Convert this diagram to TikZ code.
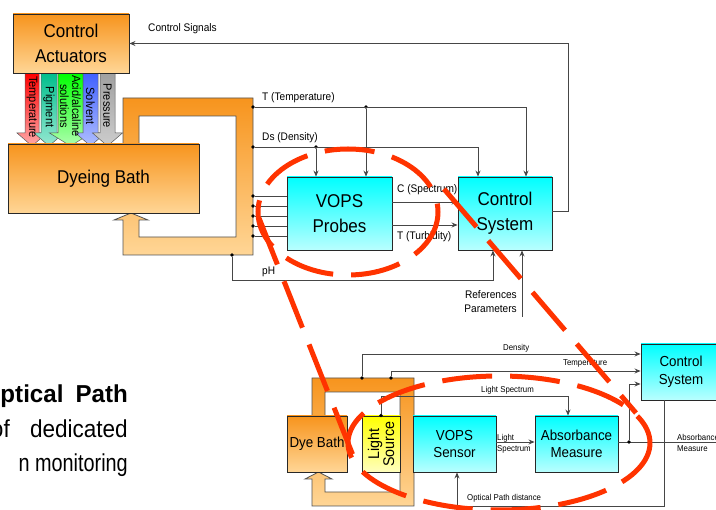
\documentclass[tikz,border=0pt]{standalone}
\usepackage{fontspec}
\setmainfont[FakeStretch=0.92]{Liberation Sans}
\usetikzlibrary{arrows.meta,calc}
\definecolor{orT}{RGB}{247,148,29}
\definecolor{orB}{RGB}{255,214,150}
\definecolor{cyT}{RGB}{0,255,255}
\definecolor{cyB}{RGB}{185,255,255}
\definecolor{yeT}{RGB}{255,255,0}
\definecolor{yeB}{RGB}{255,255,190}
\definecolor{redd}{RGB}{255,51,0}
\definecolor{lnc}{RGB}{70,70,70}
\definecolor{bdr}{RGB}{40,40,40}
\tikzset{
 fbox/.style={draw=bdr, line width=0.9pt, align=center, inner sep=0pt, font=\fontsize{18.5}{25}\selectfont},
 obox/.style={fbox, top color=orT, bottom color=orB},
 cbox/.style={fbox, top color=cyT, bottom color=cyB},
 sfont/.style={font=\fontsize{14.5}{17.5}\selectfont},
 pipe/.style={draw=bdr!80, line width=0.8pt, top color=orT, bottom color=orB},
 conn/.style={draw=lnc, line width=0.8pt},
 arr/.style={conn, -{Stealth[length=6pt,width=5pt]}},
 jdot/.style={circle, fill=black, inner sep=0pt, minimum size=3.6pt},
 lbl/.style={inner sep=0pt, font=\fontsize{11}{14.5}\selectfont},
 slbl/.style={inner sep=0pt, font=\fontsize{8.5}{11}\selectfont, align=left},
 rdash/.style={draw=redd, line width=5pt, dash pattern=on 50pt off 18pt},
 actarr/.style={draw=gray!70!black, line width=0.5pt},
 alab/.style={rotate=-90, inner sep=0pt, align=center, font=\fontsize{12}{12}\selectfont},
 bigtxt/.style={anchor=base east, inner sep=0pt, font=\fontsize{24.5}{30}\selectfont},
}
\begin{document}
\begin{tikzpicture}[x=1pt,y=-1pt]
\useasboundingbox (0,0) rectangle (716,510);

% ---------- upper pipe ----------
\path[pipe] (123,144) -- (123,98) -- (253,98) -- (253,255) -- (123,255) -- (123,220)
  -- (114,220) -- (131,213) -- (148,220) -- (139,220) -- (139,237) -- (236,237)
  -- (236,116) -- (139,116) -- (139,144) -- cycle;

% ---------- actuator arrows ----------
\path[actarr, top color={rgb,255:red,255;green,0;blue,0}, bottom color={rgb,255:red,255;green,170;blue,170}]
  (25,73) -- (25,133) -- (17,133) -- (32,146) -- (47,133) -- (39,133) -- (39,73) -- cycle;
\path[actarr, top color={rgb,255:red,0;green,190;blue,140}, bottom color={rgb,255:red,150;green,232;blue,210}]
  (41,73) -- (41,133) -- (34,133) -- (49,146) -- (64,133) -- (57,133) -- (57,73) -- cycle;
\path[actarr, top color={rgb,255:red,0;green,255;blue,0}, bottom color={rgb,255:red,175;green,255;blue,175}]
  (58,73) -- (58,133) -- (49.5,133) -- (70.5,146) -- (91.5,133) -- (83,133) -- (83,73) -- cycle;
\path[actarr, top color={rgb,255:red,64;green,96;blue,255}, bottom color={rgb,255:red,175;green,190;blue,255}]
  (83,73) -- (83,133) -- (75.5,133) -- (90.5,146) -- (105.5,133) -- (98,133) -- (98,73) -- cycle;
\path[actarr, top color={rgb,255:red,160;green,160;blue,160}, bottom color={rgb,255:red,205;green,205;blue,205}]
  (100,73) -- (100,133) -- (92.5,133) -- (107.5,146) -- (122.5,133) -- (115,133) -- (115,73) -- cycle;
\node[alab] (aT) at (32,107) {Temperature};
\node[alab] (aP) at (49,107) {Pigment};
\node[alab] (aA) at (70.5,106) {Acid/alcaline\\solutions};
\node[alab] (aS) at (90.5,106) {Solvent};
\node[alab] (aPr) at (107.5,106) {Pressure};

% ---------- upper boxes ----------
\node[obox, minimum width=116pt, minimum height=59pt] (act) at (71,43.5) {Control\\Actuators};
\node[obox, minimum width=191pt, minimum height=69pt] (bath) at (103.5,178.5) {Dyeing Bath};
\node[cbox, minimum width=105pt, minimum height=73pt] (vops) at (339.5,213.5) {VOPS\\Probes};
\node[cbox, minimum width=94pt, minimum height=73pt] (cs) at (505,213.5) {Control\\System};

% ---------- upper connectors ----------
\node[jdot] (pT) at (253,107) {};
\node[jdot] (dT) at (366,107) {};
\draw[arr] (pT) -| ([xshift=21pt]cs.north);
\draw[arr] (dT) -- (dT |- vops.north);
\node[jdot] (pDs) at (253,147) {};
\node[jdot] (dDs) at (316,147) {};
\draw[arr] (pDs) -| ([xshift=-27pt]cs.north);
\draw[arr] (dDs) -- (dDs |- vops.north);
\foreach \i/\y in {1/196,2/206,3/216,4/226,5/236}{
  \node[jdot] (pp\i) at (253,\y) {};
  \draw[conn] (pp\i) -- (pp\i -| vops.west);
}
\draw[arr] ([yshift=11.5pt]vops.east) -- ([yshift=11.5pt]cs.west);
\draw[arr] ([yshift=-11.5pt]vops.east) -- ([yshift=-11.5pt]cs.west);
\coordinate (csR) at (568,43.5);
\draw[arr] ([yshift=2.5pt]cs.east) -| (csR) -- (act.east);
\node[jdot] (dpH) at (232,255) {};
\coordinate (pHc) at (232,280);
\draw[arr] (dpH) -- (pHc) -| ([xshift=-12pt]cs.south);
\coordinate (refs) at (522,317);
\draw[arr] (refs) -- (refs |- cs.south);

\node[lbl, anchor=west] (lCS) at (148,29) {Control Signals};
\node[lbl, anchor=west] (lT) at (262,98) {T (Temperature)};
\node[lbl, anchor=west] (lDs) at (262,138) {Ds (Density)};
\node[lbl, anchor=west] (lC) at (397,190) {C (Spectrum)};
\node[lbl, anchor=west] (lTu) at (397,237) {T (Turbidity)};
\node[lbl, anchor=west] (lpH) at (262,272) {pH};
\node[lbl, anchor=east, align=right] (lRef) at (517,301.5) {References\\Parameters};

% ---------- lower pipe ----------
\path[pipe] (312,416) -- (312,378) -- (414,378) -- (414,506) -- (312,506) -- (312,479)
  -- (305,479) -- (318.5,472) -- (332,479) -- (325,479) -- (325,492) -- (400,492)
  -- (400,392) -- (325,392) -- (325,416) -- cycle;

% ---------- lower boxes ----------
\node[obox, sfont, minimum width=60pt, minimum height=56pt] (dye) at (317,444) {Dye Bath};
\node[fbox, top color=yeT, bottom color=yeB, minimum width=38pt, minimum height=56pt] (light) at (381,444) {};
\node[rotate=90, inner sep=0pt, align=center, font=\fontsize{15.5}{15}\selectfont] (lightT) at (381,444) {Light\\Source};
\node[cbox, sfont, minimum width=83pt, minimum height=56pt] (sensor) at (454.5,444) {VOPS\\Sensor};
\node[cbox, sfont, minimum width=83pt, minimum height=56pt] (absm) at (576.5,444) {Absorbance\\Measure};
\node[cbox, sfont, minimum width=80pt, minimum height=56pt] (cs2) at (681,372) {Control\\System};

% ---------- lower connectors ----------
\node[jdot] (dDen) at (362,378) {};
\node[jdot] (dTem) at (391,378) {};
\draw[arr] (dDen) |- ([yshift=18pt]cs2.west);
\draw[arr] (dTem) |- ([yshift=1pt]cs2.west);
\node[jdot] (dLS) at (light.north) {};
\draw[arr] (dLS) -- ([yshift=19pt]light.north) -| ([xshift=-8.5pt]absm.north);
\draw[arr] ([yshift=2pt]sensor.east) -- ([yshift=2pt]absm.west);
\coordinate (absOut) at (718,442);
\draw[conn] ([yshift=2pt]absm.east) -- (absOut);
\node[jdot] (dAbs) at (629,442) {};
\draw[arr] (dAbs) |- ([yshift=-12pt]cs2.west);
\coordinate (opd) at (457,506);
\draw[arr] ([xshift=-17pt]cs2.south) |- (opd) -- (opd |- sensor.south);

\node[slbl, anchor=west] (lDen) at (503,348) {Density};
\node[slbl, anchor=west] (lTem) at (563,363) {Temperature};
\node[slbl, anchor=west] (lLS) at (481,390) {Light Spectrum};
\node[slbl, anchor=west] (lLS2) at (497,443.5) {Light\\Spectrum};
\node[slbl, anchor=west] (lAM) at (677,442.5) {Absorbance\\Measure};
\node[slbl, anchor=west] (lOP) at (467,498) {Optical Path distance};

% ---------- left text ----------
\node[bigtxt, font=\fontsize{24.5}{30}\selectfont\bfseries] (t1) at (128,403) {\scalebox{1.07}[1]{Optical\hspace{5pt} Path}};
\node[bigtxt] (t2) at (128,438) {of\hspace{14pt} dedicated};
\node[bigtxt] (t3) at (128,472) {\scalebox{0.88}[1]{n monitoring}};

% ---------- red dashed zoom marks ----------
\draw[rdash] (348,212) ellipse [x radius=90, y radius=63];
\draw[rdash] (499,443) ellipse [x radius=151, y radius=67];
\draw[rdash] (259,218) -- (354,458);
\draw[rdash] (444,189) -- (636,413);
\end{tikzpicture}
\end{document}
